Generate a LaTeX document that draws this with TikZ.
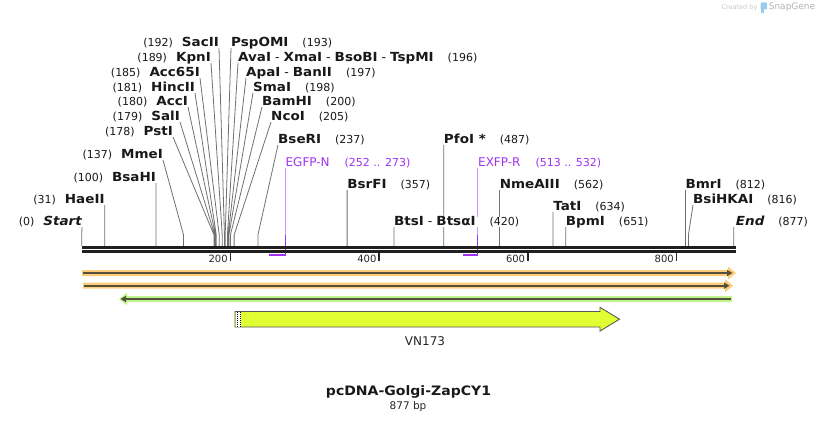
\documentclass[tikz,border=0pt]{standalone}
\usepackage{fontspec}
\setmainfont{DejaVu Sans}[ItalicFont={DejaVu Sans Oblique},BoldFont={DejaVu Sans Bold},BoldItalicFont={DejaVu Sans Bold Oblique},
  BoldFeatures={FakeStretch=1.08},BoldItalicFeatures={FakeStretch=1.08}]
\definecolor{sitegray}{HTML}{707070}
\definecolor{primer}{RGB}{160,50,240}
\definecolor{primerlt}{RGB}{205,150,250}
\definecolor{featorange}{HTML}{FFCC7A}
\definecolor{featgreen}{HTML}{BEF58C}
\definecolor{featdark}{HTML}{55503C}
\definecolor{vnfill}{HTML}{E0FF33}
\definecolor{snapblue}{HTML}{9CCBF0}
\pgfdeclarelayer{bg}
\pgfsetlayers{bg,main}
\tikzset{
  lbl/.style={inner sep=0pt, text height=8.5pt, text depth=1.6pt, fill=white, text=black!90,
    font=\fontsize{11}{13}\selectfont},
  lsite/.style={lbl, anchor=south east},
  rsite/.style={lbl, anchor=south west},
  cut/.style={draw=sitegray, line width=0.8pt},
  ticklbl/.style={inner sep=0pt, anchor=east, text=black!85, font=\fontsize{10}{12}\selectfont}
}
\newcommand\enz[1]{{\fontsize{12.5}{14}\selectfont\bfseries #1}}
\newcommand\sep{\hspace{4pt}{\mdseries-}\hspace{4pt}}
\newcommand\lft[2]{(#1)\hspace{9pt}\enz{#2}\hspace{6pt}}
\newcommand\rgt[2]{\enz{#1}\hspace{14pt}(#2)}
\begin{document}
\begin{tikzpicture}[x=1pt, y=-1pt, line cap=butt, declare function={bp(\p)=81.7+0.7435*\p;}]
 \useasboundingbox (0,0) rectangle (818,422);
 \foreach \p in {0,31,100,137,178,179,180,181,185,189,192,193,196,197,198,200,205,237,274,357,420,487,533,562,634,651,812,816,877}
   \path ({bp(\p)},235) coordinate (k\p) ({bp(\p)},246) coordinate (b\p);
 % enzyme labels, left of their sites
 \path
 (82,227) node[lsite] (Start) {(0)\hspace{9pt}\enz{\itshape Start}\hspace{6pt}}
 ({bp(31)},205) node[lsite] (HaeII) {\lft{31}{HaeII}}
 ({bp(100)},183) node[lsite] (BsaHI) {\lft{100}{BsaHI}}
 (163,160) node[lsite] (MmeI) {\lft{137}{MmeI}}
 (173,137) node[lsite] (PstI) {\lft{178}{PstI}}
 (180,122) node[lsite] (SalI) {\lft{179}{SalI}}
 (188,107) node[lsite] (AccI) {\lft{180}{AccI}}
 (195,93) node[lsite] (HincII) {\lft{181}{HincII}}
 (200,78) node[lsite] (Acc65I) {\lft{185}{Acc65I}}
 (211,63) node[lsite] (KpnI) {\lft{189}{KpnI}}
 (219,48) node[lsite] (SacII) {\lft{192}{SacII}};
 % enzyme labels, right of their sites
 \path
 (231,48) node[rsite] (PspOMI) {\rgt{PspOMI}{193}}
 (238,63) node[rsite] (AvaI) {\rgt{AvaI\sep XmaI\sep BsoBI\sep TspMI}{196}}
 (246,78) node[rsite] (ApaI) {\rgt{ApaI\sep BanII}{197}}
 (253,93) node[rsite] (SmaI) {\rgt{SmaI}{198}}
 (262,107) node[rsite] (BamHI) {\rgt{BamHI}{200}}
 (271,122) node[rsite] (NcoI) {\rgt{NcoI}{205}}
 (278,145) node[rsite] (BseRI) {\rgt{BseRI}{237}}
 ({bp(487)},145) node[rsite] (PfoI) {\rgt{PfoI *}{487}}
 ({bp(357)},190) node[rsite] (BsrFI) {\rgt{BsrFI}{357}}
 ({bp(420)},227) node[rsite] (BtsI) {\rgt{BtsI\sep BtsαI}{420}}
 ({bp(562)},190) node[rsite] (NmeAIII) {\rgt{NmeAIII}{562}}
 ({bp(634)},212) node[rsite] (TatI) {\rgt{TatI}{634}}
 ({bp(651)},227) node[rsite] (BpmI) {\rgt{BpmI}{651}}
 ({bp(812)},190) node[rsite] (BmrI) {\rgt{BmrI}{812}}
 (693,205) node[rsite] (BsiHKAI) {\rgt{BsiHKAI}{816}}
 ({bp(877)},227) node[rsite] (End) {\hspace{2pt}\rgt{\itshape End}{877}};
 % primers
 \path
 ({bp(274)},168) node[rsite, text=primer, font=\fontsize{12}{14}\selectfont] (EGFPN) {EGFP-N\hspace{15pt}{\fontsize{11}{13}\selectfont(252 .. 273)}}
 ({bp(533)},168) node[rsite, text=primer, font=\fontsize{12}{14}\selectfont] (EXFPR) {EXFP-R\hspace{15pt}{\fontsize{11}{13}\selectfont(513 .. 532)}};
 \begin{pgfonlayer}{bg}
 \draw[cut] (Start.south east)--(k0)--(b0) (HaeII.south east)--(k31)--(b31)
   (BsaHI.south east)--(k100)--(b100) (MmeI.south east)--(k137)--(b137)
   (PstI.south east)--(k178)--(b178) (SalI.south east)--(k179)--(b179)
   (AccI.south east)--(k180)--(b180) (HincII.south east)--(k181)--(b181)
   (Acc65I.south east)--(k185)--(b185) (KpnI.south east)--(k189)--(b189)
   (SacII.south east)--(k192)--(b192);
 \draw[cut] (PspOMI.south west)--(k193)--(b193) (AvaI.south west)--(k196)--(b196)
   (ApaI.south west)--(k197)--(b197) (SmaI.south west)--(k198)--(b198)
   (BamHI.south west)--(k200)--(b200) (NcoI.south west)--(k205)--(b205)
   (BseRI.south west)--(k237)--(b237) (PfoI.south west)--(k487)--(b487)
   (BsrFI.south west)--(k357)--(b357) (BtsI.south west)--(k420)--(b420)
   (NmeAIII.south west)--(k562)--(b562) (TatI.south west)--(k634)--(b634)
   (BpmI.south west)--(k651)--(b651) (BmrI.south west)--(k812)--(b812)
   (BsiHKAI.south west)--(k816)--(b816) (End.south west)--(k877)--(b877);
 \draw[primerlt, line width=1pt] (EGFPN.south west)--(k274) (EXFPR.south west)--(k533);
 \draw[primer, line width=1pt] (k274)--({bp(274)},256) (k533)--({bp(533)},256);
 \end{pgfonlayer}
 \draw[primer, line width=2pt] ({bp(252)},255)--({bp(274)},255) ({bp(513)},255)--({bp(533)},255);
 % sequence
 \draw[black!88, line width=2.6pt] (82,247.3)--(736,247.3) (82,251.3)--(736,251.3);
 \foreach \t in {200,400,600,800}{
   \draw[black!85, line width=1.7pt] ({bp(\t)},253)--({bp(\t)},260.5);
   \node[ticklbl] (t\t) at ({bp(\t)-2.5},258.5) {\t};
 }
 % features
 \fill[featorange] (82,270)--(728,270)--(728,266.5)--(736,273)--(728,279.5)--(728,276)--(82,276)--cycle;
 \draw[featdark, line width=2pt] (82.5,273)--(729,273);
 \fill[featdark] (727,269.8)--(732.5,273)--(727,276.2)--cycle;
 \fill[featorange] (83,282.7)--(725,282.7)--(725,279.2)--(733,285.7)--(725,292.2)--(725,288.7)--(83,288.7)--cycle;
 \draw[featdark, line width=2pt] (83.5,285.7)--(726,285.7);
 \fill[featdark] (724,282.5)--(729.5,285.7)--(724,288.9)--cycle;
 \fill[featgreen] (732,296)--(127,296)--(127,292.5)--(119,299)--(127,305.5)--(127,302)--(732,302)--cycle;
 \draw[featdark, line width=2pt] (731,299)--(124,299);
 \fill[featdark] (126,295.8)--(120.5,299)--(126,302.2)--cycle;
 \draw[draw=black!65, fill=vnfill, line width=0.9pt, line join=miter]
   (235,311.5)--(600,311.5)--(600,307.3)--(619.5,319.2)--(600,331)--(600,327)--(235,327)--cycle;
 \fill[white] (235.5,312) rectangle (241,326.5);
 \draw[black, line width=0.8pt, dash pattern=on 1pt off 1pt] (237.3,312)--(237.3,326.5) (240.5,312)--(240.5,326.5);
 \node[text=black!85, font=\fontsize{12}{14}\selectfont] (VN173) at (425,341) {VN173};
 % title
 \node[font=\fontsize{13}{16}\selectfont\bfseries, text=black!90] (title) at (408.5,392) {pcDNA-Golgi-ZapCY1};
 \node[font=\fontsize{10.5}{12}\selectfont, text=black!85] (length) at (408,406.5) {877 bp};
 % watermark
 \node[font=\fontsize{6.5}{8}\selectfont, text=black!22] (created) at (739.5,7.5) {Created by};
 \fill[snapblue, rounded corners=1pt] (760.5,2.5) rectangle (767,9.5);
 \fill[snapblue] (760.5,8) rectangle (763.5,13.5);
 \node[font=\fontsize{9}{11}\selectfont, text=black!30] (snapgene) at (792,7.5) {SnapGene};
\end{tikzpicture}
\end{document}
